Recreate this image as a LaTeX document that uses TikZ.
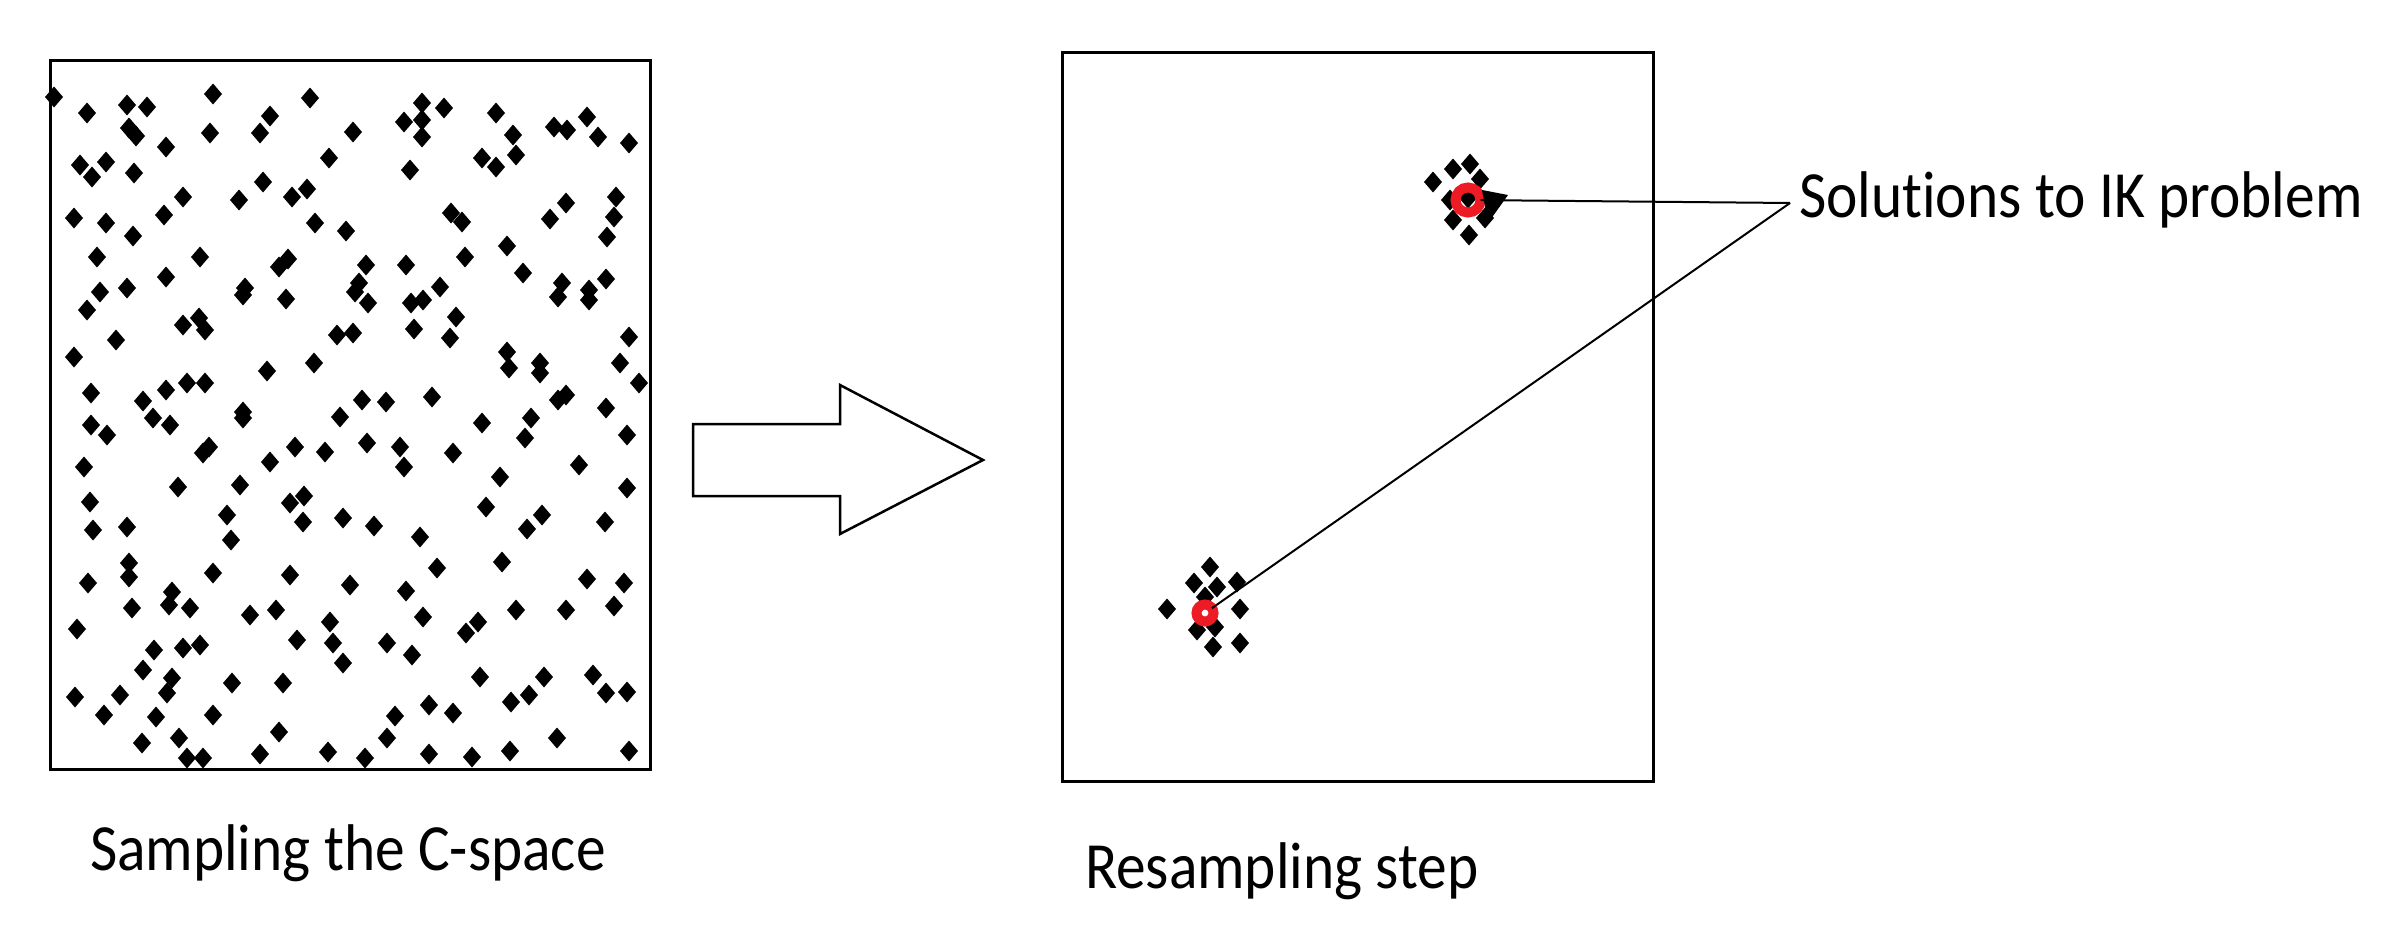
\documentclass[tikz,border=0pt]{standalone}
\usepackage{fontspec}
\setmainfont{Carlito}
\newfontfamily\lblfont[FakeStretch=0.9,Ligatures={NoCommon}]{Carlito}
\usetikzlibrary{calc}
\tikzset{
  panel/.style={draw=black, line width=3pt, inner sep=0pt, outer sep=0pt},
  lbl/.style={font=\lblfont\fontsize{66}{80}\selectfont, inner sep=0pt, outer sep=0pt, anchor=base west},
  ring/.style={circle, draw={rgb,255:red,237;green,28;blue,36}, line width=10pt, inner sep=0pt, outer sep=0pt},
  conn/.style={draw=black, line width=2pt},
  bigarrow/.style={draw=black, line width=2.5pt, line join=miter}
}
\newcommand\dmd[2]{\fill[black] (#1,#2) +(0,-10.5) -- +(9,0) -- +(0,10.5) -- +(-9,0) -- cycle;}
\begin{document}
\begin{tikzpicture}[x=1pt,y=-1pt]
\useasboundingbox (0,0) rectangle (2382,950);
\fill[white] (0,0) rectangle (2382,950);

% panels
\node[panel, minimum width=600pt, minimum height=708pt] (left) at (350,415) {};
\node[panel, minimum width=591pt, minimum height=728pt] (right) at (1357.5,417) {};

% scattered samples
\foreach \a/\b in {54/97,87/113,127/105,147/107,213/94,310/98,129/128,136/136,166/147,210/133,
 270/116,260/133,353/132,404/122,422/103,422/120,422/137,444/108,496/113,513/135,516/155,
 554/127,567/130,587/117,598/137,629/143,80/165,92/177,106/162,134/173,329/158,410/170,
 482/158,496/167,263/182,183/197,239/200,292/197,307/189,74/218,106/223,133/236,164/215,
 315/223,346/231,451/213,462/222,550/219,566/203,616/197,614/217,607/237,97/257,200/257,
 279/267,288/259,366/265,359/283,406/265,465/257,507/246,523/273,562/283,558/297,589/290,
 589/300,606/279,166/277,100/292,127/288,87/310,245/288,243/295,286/299,355/292,368/303,
 411/303,423/300,440/287,456/317,183/325,199/318,205/330,116/340,337/335,353/333,414/329,
 450/338,629/337,74/357,267/371,314/363,507/352,509/368,540/363,540/373,620/363,639/383,
 91/393,143/401,166/390,187/383,205/383,243/412,362/400,386/402,432/397,558/400,566/395,
 606/408,91/425,153/418,170/425,243/418,340/417,482/423,531/418,
 107/435,525/438,627/435,203/453,209/447,295/447,325/452,367/443,400/447,404/467,453/453,
 270/462,84/467,579/465,500/477,627/488,178/487,240/485,90/502,290/503,304/496,486/507,
 227/515,303/522,343/518,374/526,542/515,527/529,605/522,93/530,127/527,231/540,420/537,
 129/563,129/577,437/568,502/562,213/573,290/575,88/583,350/585,406/591,587/579,624/583,
 172/592,169/605,190/608,132/608,250/615,276/610,330/622,333/643,423/617,478/622,466/633,
 516/610,566/610,614/606,77/629,297/640,387/643,412/655,154/650,143/670,183/648,200/645,
 343/663,480/677,544/677,593/675,232/683,283/683,172/678,167/693,75/697,120/695,511/702,
 529/695,606/693,627/692,104/715,156/717,213/715,395/716,429/705,453/713,279/732,142/743,
 179/738,387/738,557/738,187/758,203/758,260/754,328/752,365/758,429/754,472/757,510/751,
 629/751}
 {\dmd{\a}{\b}}

% clusters in the resampling panel
\foreach \a/\b in {1433/182,1453/169,1470/164,1480/179,1450/200,1453/220,1485/218,1469/235,1468/198,
 1210/567,1194/583,1217/587,1237/582,1167/609,1240/609,1197/630,1215/627,1213/647,1240/643,1205/597}
 {\dmd{\a}{\b}}

% red solutions
\node[ring, minimum size=25pt] (c1) at (1468,200) {};
\node[ring, minimum size=17pt] (c2) at (1205,613) {};
\fill[black] (1482,190) -- (1508,195) -- (1488,223) -- cycle;

% big arrow
\draw[bigarrow] (693,424) -- (840,424) -- (840,385) -- (983,460) -- (840,534) -- (840,496) -- (693,496) -- cycle;

% labels
\node[lbl] (t1) at (90,870) {Sampling the C-space};
\node[lbl] (t2) at (1085,888) {Resampling step};
\node[lbl] (t3) at (1799,217) {Solutions to IK problem};

\coordinate (j) at ($(t3.base west)+(-9,-14)$);
\draw[conn] (j) -- (c1);
\draw[conn] (j) -- (c2);
\end{tikzpicture}
\end{document}
